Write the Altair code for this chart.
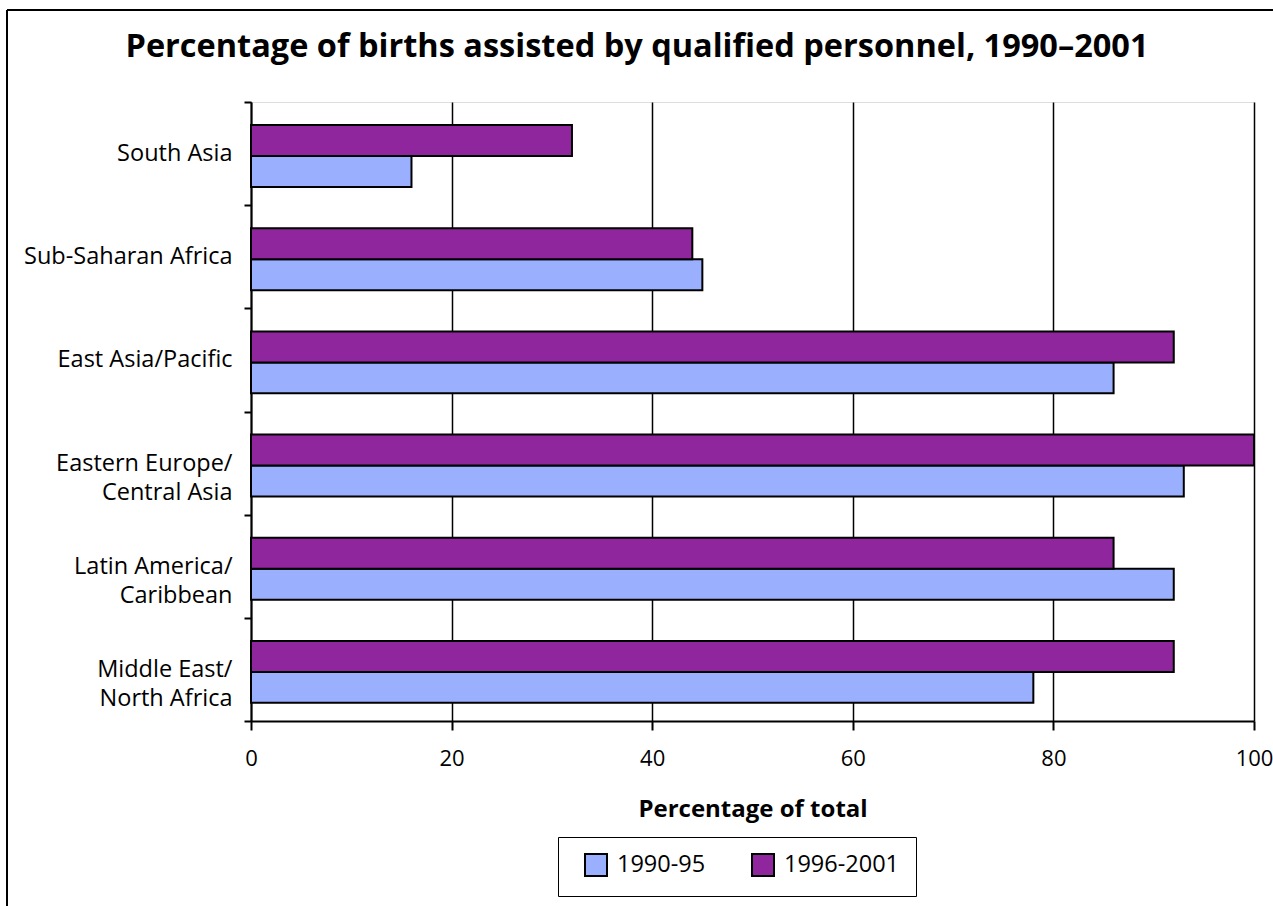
import altair as alt
import pandas as pd

regions = ["South Asia", "Sub-Saharan Africa\u00a0", "East Asia/Pacific\u00a0",
           "Eastern Europe/ Central Asia", "Latin America/ Caribbean",
           "Middle East/ North Africa"]
series = ["1990-95", "1996-2001"]
v_1990_95 = [16, 45, 86, 93, 92, 78]
v_1996_2001 = [32, 44, 92, 100, 86, 92]
x_ticks = [0, 20, 40, 60, 80, 100]
title_text = "Percentage of births assisted by qualified personnel, 1990–2001"

rows = []
for r, a, b in zip(regions, v_1990_95, v_1996_2001):
    rows.append({"region": r, "period": series[0], "value": a})
    rows.append({"region": r, "period": series[1], "value": b})
df = pd.DataFrame(rows)

FONT = "Open Sans"
W, H = 1003, 619

bars = alt.Chart(df).mark_bar(stroke="black", strokeWidth=2).encode(
    x=alt.X("value:Q",
            scale=alt.Scale(domain=[0, 100], nice=False),
            axis=alt.Axis(values=x_ticks, title="Percentage of total",
                          grid=True, gridColor="black", gridWidth=1.5,
                          gridOpacity=1, labelFlush=False,
                          domainColor="black", domainWidth=2,
                          tickColor="black", tickWidth=2, tickSize=9,
                          labelFont=FONT, labelFontSize=22, labelColor="black",
                          labelPadding=18,
                          titleFont=FONT, titleFontSize=24, titleFontWeight="bold",
                          titleColor="black", titlePadding=28)),
    y=alt.Y("region:N", sort=regions,
            scale=alt.Scale(paddingInner=0, paddingOuter=0),
            axis=alt.Axis(title=None,
                          labelExpr="split(replace(datum.label, '/ ', '/|'), '|')",
                          tickBand="extent", tickColor="black", tickWidth=2,
                          tickSize=7, domainColor="black", domainWidth=2,
                          labelFont=FONT, labelFontSize=23.5, labelColor="black",
                          labelPadding=12, labelLineHeight=29, labelLimit=300)),
    yOffset=alt.YOffset("period:N", sort=["1996-2001", "1990-95"],
                        scale=alt.Scale(paddingInner=0, paddingOuter=0.665,
                                        align=0.56)),
    color=alt.Color("period:N",
                    scale=alt.Scale(domain=series, range=["#9AB0FF", "#90269D"]),
                    legend=alt.Legend(title=None, orient="none",
                                      legendX=307, legendY=735,
                                      direction="horizontal", columns=2,
                                      symbolType="square", symbolSize=484,
                                      symbolStrokeColor="black",
                                      symbolStrokeWidth=2, symbolOpacity=1,
                                      symbolOffset=10,
                                      labelFont=FONT, labelFontSize=23.5,
                                      labelColor="black", columnPadding=35,
                                      strokeColor="black", padding=16,
                                      labelOffset=9)),
)

title = alt.Chart(pd.DataFrame({"t": [title_text]})).mark_text(
    font=FONT, fontSize=32.5, fontWeight="bold", color="black",
    align="center", baseline="alphabetic").encode(
    text="t:N", x=alt.value(386), y=alt.value(-45))

frame = alt.Chart(pd.DataFrame({"k": [0]})).mark_rule(
    color="black", strokeWidth=2, clip=False).encode(
    x=alt.value(-244), x2=alt.value(W + 30), y=alt.value(-92), y2=alt.value(-92))
frame2 = alt.Chart(pd.DataFrame({"k": [0]})).mark_rule(
    color="black", strokeWidth=2, clip=False).encode(
    x=alt.value(-244), x2=alt.value(-244), y=alt.value(-92), y2=alt.value(H + 200))

chart = alt.layer(bars, title, frame, frame2).properties(
    width=W, height=H,
    padding={"left": 251, "top": 102, "right": 19, "bottom": 185},
    autosize=alt.AutoSizeParams(type="none"),
).configure_view(stroke="black", strokeWidth=2).configure(background="white")

chart.save("out.html", embed_options={"renderer": "svg", "actions": False})
